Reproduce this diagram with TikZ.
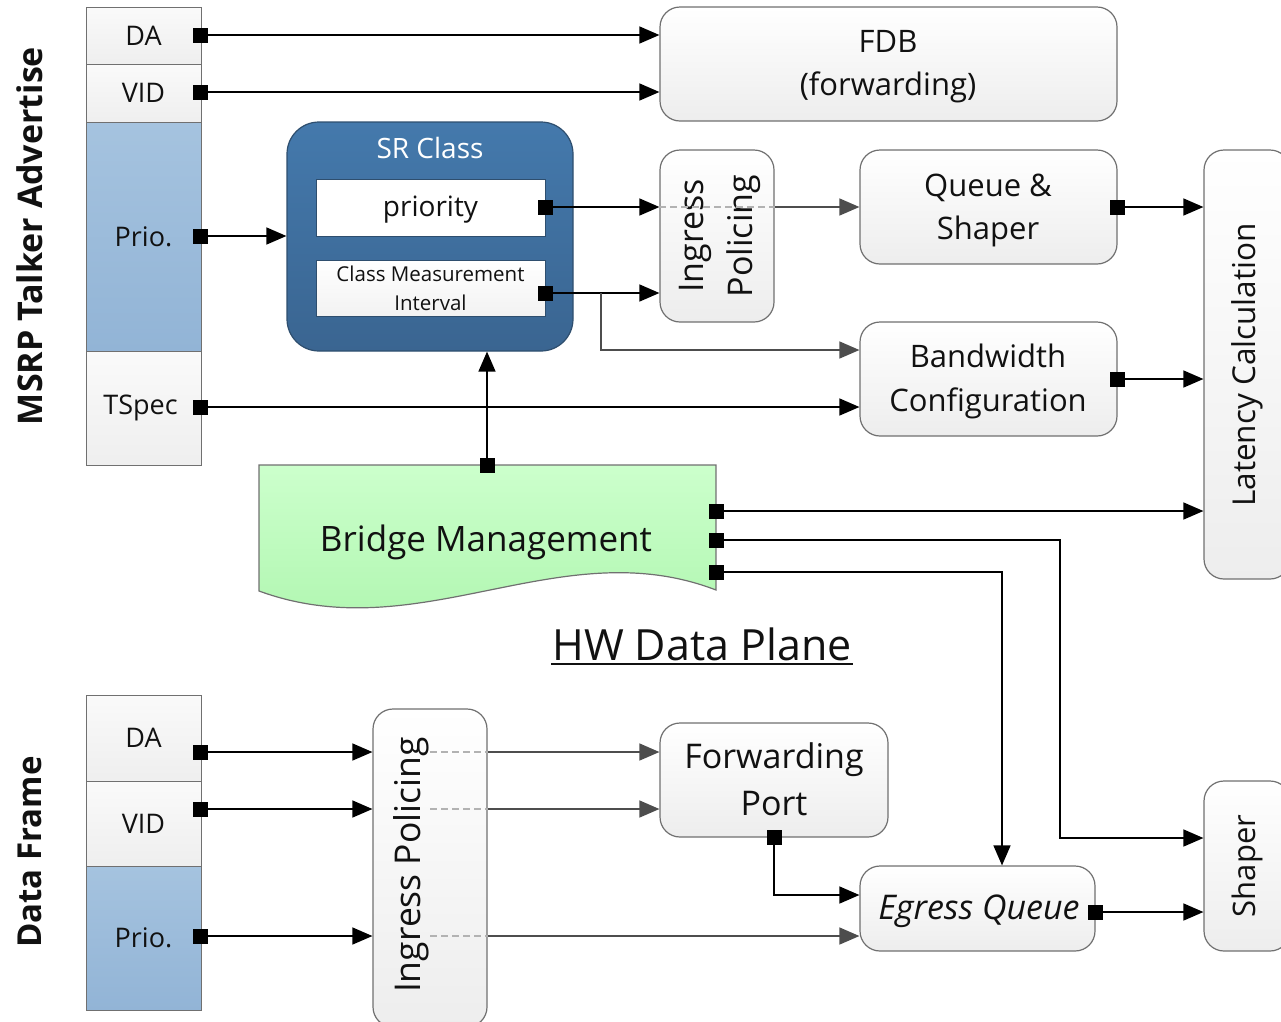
\documentclass[tikz,border=0pt]{standalone}
\usepackage{fontspec}
\setmainfont{Open Sans}
\usetikzlibrary{arrows.meta,calc}
\definecolor{boxgray}{HTML}{707070}
\definecolor{lgray}{HTML}{4D4D4D}
\definecolor{srTop}{HTML}{4479AC}
\definecolor{srBot}{HTML}{3A6591}
\definecolor{srBorder}{HTML}{2E4E6E}
\definecolor{prioTop}{HTML}{A5C3DF}
\definecolor{prioBot}{HTML}{92B4D6}
\definecolor{bmTop}{HTML}{CCFFCC}
\definecolor{bmBot}{HTML}{ACF5AC}
\definecolor{txt}{HTML}{111111}
\newcommand{\fs}[2]{\fontsize{#1}{#2}\selectfont}
\tikzset{
  every node/.style={text=txt},
  box/.style={draw=boxgray, rounded corners=20pt, top color=white, bottom color=gray!14, line width=1.2pt, inner sep=0pt},
  cellg/.style={draw=boxgray, top color=white!96!gray, bottom color=gray!13, line width=1pt, inner sep=0pt},
  cellb/.style={draw=boxgray, top color=prioTop, bottom color=prioBot, line width=1pt, inner sep=0pt},
  port/.style={fill=black, minimum size=15pt, inner sep=0pt},
  conn/.style={line width=1.4pt, draw=black, -{Triangle[length=20pt,width=17pt]}},
  gconn/.style={line width=1.4pt, draw=lgray, -{Triangle[length=20pt,width=17pt,fill=lgray]}},
  dsh/.style={draw=gray!60, line width=1.1pt, dash pattern=on 7pt off 4pt},
  lbl/.style={inner sep=0pt, align=center},
}
\begin{document}
\begin{tikzpicture}[x=1pt,y=-1pt]
\useasboundingbox (0,0) rectangle (1281,1021);
\clip (0,0) rectangle (1281,1021);

% ---------- MSRP stack ----------
\node[cellg, minimum width=115pt, minimum height=57pt] (mda) at (143.5,35.5) {\fs{27}{30}DA};
\node[cellg, minimum width=115pt, minimum height=58pt] (mvid) at (143.5,93) {\fs{27}{30}VID};
\node[cellb, minimum width=115pt, minimum height=229pt] (mprio) at (143.5,236.5) {\fs{27}{30}Prio.};
\node[cellg, minimum width=115pt, minimum height=114pt] (mts) at (143.5,408) {\fs{27}{30}\hspace*{-6pt}TSpec};
\node[rotate=90, font=\bfseries\fs{34}{40}, inner sep=0pt] (msrp) at (30,236) {MSRP Talker Advertise};

% ---------- top boxes ----------
\node[box, minimum width=457pt, minimum height=114pt] (fdb) at (888.5,64) {};
\node[lbl, font=\fs{31}{43}] (fdbl) at (888,67) {FDB\\(forwarding)};

\node[draw=srBorder, rounded corners=32pt, top color=srTop, bottom color=srBot, line width=1.2pt, minimum width=286pt, minimum height=229pt, inner sep=0pt] (sr) at (430,236.5) {};
\node[text=white, font=\fs{28}{30}, inner sep=0pt] (srt) at (430,148) {SR Class};
\node[draw=srBorder, fill=white, line width=1pt, minimum width=229pt, minimum height=57pt, inner sep=0pt] (pri) at (430.5,207.5) {};
\node[lbl, font=\fs{28}{30}] (pril) at (430.5,210) {priority};
\node[draw=srBorder, top color=white, bottom color=gray!10, line width=1pt, minimum width=229pt, minimum height=56pt, inner sep=0pt, align=center, font=\fs{20.5}{29}] (cmi) at (430.5,288) {Class Measurement\\Interval};

\node[box, minimum width=114pt, minimum height=172pt] (ipt) at (717,236) {};
\node[lbl, rotate=90, font=\fs{34}{49}] (iptl) at (720,236) {Ingress\\Policing};

\node[box, minimum width=257pt, minimum height=114pt] (qs) at (988.5,207) {};
\node[lbl, font=\fs{31}{43}] (qsl) at (988,210) {Queue \&\\Shaper};

\node[box, minimum width=257pt, minimum height=114pt] (bw) at (988.5,379) {};
\node[lbl, font=\fs{31}{44}] (bwl) at (988,381) {Bandwidth\\Configuration};

\node[box, minimum width=86pt, minimum height=429pt] (lat) at (1247,364.5) {};
\node[lbl, rotate=90, font=\fs{31.5}{34}] (latl) at (1247,365) {Latency Calculation};

% ---------- Bridge management ----------
\path[draw=boxgray, line width=1.2pt, top color=bmTop, bottom color=bmBot]
  (259,465) -- (716,465) -- (716,590) .. controls (560,530) and (420,650) .. (259,591) -- cycle;
\node[font=\fs{35}{40}, inner sep=0pt] (bm) at (486,542) {Bridge Management};

\node[font=\fs{43}{48}, inner sep=0pt] (hw) at (702,644) {HW Data Plane};
\draw[line width=2pt, draw=txt] (551,664) -- (853,664);

% ---------- Data frame stack ----------
\node[cellg, minimum width=115pt, minimum height=86pt] (dda) at (143.5,738) {\fs{27}{30}DA};
\node[cellg, minimum width=115pt, minimum height=85pt] (dvid) at (143.5,823.5) {\fs{27}{30}VID};
\node[cellb, minimum width=115pt, minimum height=144pt] (dprio) at (143.5,938) {\fs{27}{30}Prio.};
\node[rotate=90, font=\bfseries\fs{33}{40}, inner sep=0pt] (dfr) at (30,852) {Data Frame};

\node[box, minimum width=114pt, minimum height=318pt] (ipb) at (430,868) {};
\node[lbl, rotate=90, font=\fs{35.5}{40}] (ipbl) at (411,865) {Ingress Policing};

\node[box, minimum width=228pt, minimum height=114pt] (fp) at (774,780) {};
\node[lbl, font=\fs{34}{47}] (fpl) at (774,779) {Forwarding\\Port};

\node[box, minimum width=235pt, minimum height=85pt] (eq) at (977.5,908.5) {};
\node[lbl, font=\itshape\fs{34}{36}] (eql) at (979,911) {Egress Queue};

\node[box, minimum width=86pt, minimum height=170pt] (sh) at (1247,866) {};
\node[lbl, rotate=90, font=\fs{31}{34}] (shl) at (1247,866) {Shaper};

% ---------- port coordinates ----------
\coordinate (pda) at (200,35);
\coordinate (pvid) at (200,92);
\coordinate (pprio) at (200,236);
\coordinate (pts) at (200,407);
\coordinate (ppri) at (545,207);
\coordinate (pcmi) at (545,293);
\coordinate (cmibr) at (601,293);
\coordinate (pqs) at (1117,207);
\coordinate (pbw) at (1117,379);
\coordinate (pbmt) at (487,465);
\coordinate (pbm1) at (716,511);
\coordinate (pbm2) at (716,540);
\coordinate (pbm3) at (716,572);
\coordinate (j2) at (1060,540);
\coordinate (j3) at (1002,572);
\coordinate (pdda) at (200,752);
\coordinate (pdvid) at (200,809);
\coordinate (pdprio) at (200,936);
\coordinate (pfp) at (774,837);
\coordinate (peq) at (1095,912);

% ---------- connectors ----------
\draw[conn] (pda) -- (pda -| fdb.west);
\draw[conn] (pvid) -- (pvid -| fdb.west);
\draw[conn] (pprio) -- (pprio -| sr.west);
\draw[conn] (pts) -- (pts -| bw.west);
\draw[conn] (ppri) -- (ppri -| ipt.west);
\draw[dsh] (ppri -| ipt.west) -- (ppri -| ipt.east);
\draw[gconn] (ppri -| ipt.east) -- (ppri -| qs.west);
\draw[conn] (pcmi) -- (pcmi -| ipt.west);
\draw[gconn] (cmibr) |- ([yshift=29pt]bw.west);
\draw[conn] (pbmt) -- (pbmt |- sr.south);
\draw[conn] (pqs) -- (pqs -| lat.west);
\draw[conn] (pbw) -- (pbw -| lat.west);
\draw[conn] (pbm1) -- (pbm1 -| lat.west);
\draw[conn] (pbm2) -- (j2) |- ([yshift=28pt]sh.west);
\draw[conn] (pbm3) -- (j3) -- (j3 |- eq.north);

\draw[conn] (pdda) -- (pdda -| ipb.west);
\draw[conn] (pdvid) -- (pdvid -| ipb.west);
\draw[conn] (pdprio) -- (pdprio -| ipb.west);
\draw[dsh] (430,752) -- (pdda -| ipb.east);
\draw[dsh] (430,809) -- (pdvid -| ipb.east);
\draw[dsh] (430,936) -- (pdprio -| ipb.east);
\draw[gconn] (pdda -| ipb.east) -- (pdda -| fp.west);
\draw[gconn] (pdvid -| ipb.east) -- (pdvid -| fp.west);
\draw[gconn] (pdprio -| ipb.east) -- (pdprio -| eq.west);
\draw[conn] (pfp) |- ([yshift=13.5pt]eq.west);
\draw[conn] (peq) -- (peq -| sh.west);

% ---------- ports ----------
\foreach \p in {pda,pvid,pprio,pts,ppri,pcmi,pqs,pbw,pbmt,pbm1,pbm2,pbm3,pdda,pdvid,pdprio,pfp,peq}
  \node[port] (\p-sq) at (\p) {};
\end{tikzpicture}
\end{document}
